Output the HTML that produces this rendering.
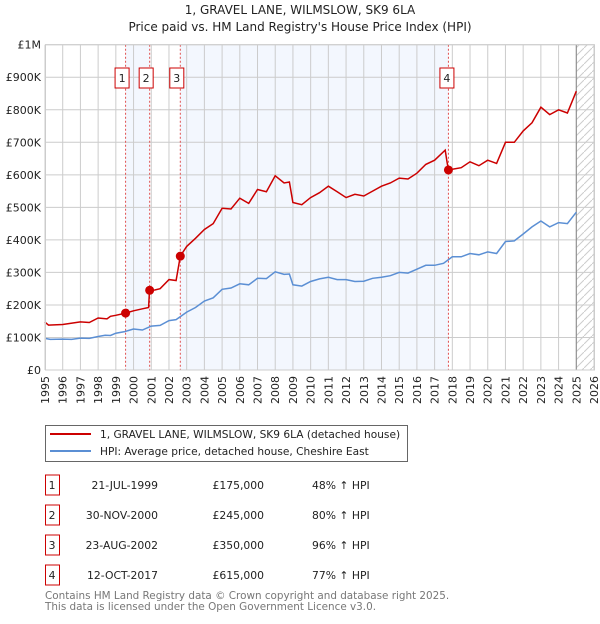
<!DOCTYPE html>
<html><head><meta charset="utf-8"><style>
body{margin:0;background:#fff;font-family:"DejaVu Sans","Liberation Sans",sans-serif;}
svg text{font-family:"DejaVu Sans","Liberation Sans",sans-serif;}
</style></head><body>
<svg id="chart" width="600" height="620" xmlns="http://www.w3.org/2000/svg">
<defs><pattern id="hatch" width="8" height="8" patternUnits="userSpaceOnUse"><path d="M0,8 L8,0" stroke="#ccc" stroke-width="1"/></pattern></defs>
<text x="300" y="14" text-anchor="middle" font-size="12" fill="#222">1, GRAVEL LANE, WILMSLOW, SK9 6LA</text>
<text x="300" y="31" text-anchor="middle" font-size="12" fill="#222">Price paid vs. HM Land Registry's House Price Index (HPI)</text>
<g id="plot"></g>
<g>
<rect x="45.5" y="425.5" width="362" height="36" fill="#fff" stroke="#666"/>
<line x1="50" y1="434" x2="91" y2="434" stroke="#cc0000" stroke-width="2"/>
<text x="100" y="438" font-size="10.6" fill="#222">1, GRAVEL LANE, WILMSLOW, SK9 6LA (detached house)</text>
<line x1="50" y1="451" x2="91" y2="451" stroke="#5b8fd4" stroke-width="2"/>
<text x="100" y="455" font-size="10.6" fill="#222">HPI: Average price, detached house, Cheshire East</text>
</g>
<g id="table" font-size="11" fill="#222"></g>
<text x="45" y="599" font-size="10.4" fill="#777">Contains HM Land Registry data © Crown copyright and database right 2025.</text>
<text x="45" y="610" font-size="10.4" fill="#777">This data is licensed under the Open Government Licence v3.0.</text>
</svg>
<script>
const hpiYears=[1995,1995.3,1996,1996.5,1997,1997.5,1998,1998.4,1998.7,1999,1999.5,2000,2000.5,2001,2001.5,2002,2002.4,2003,2003.5,2004,2004.5,2005,2005.5,2006,2006.5,2007,2007.5,2008,2008.5,2008.8,2009,2009.5,2010,2010.5,2011,2011.5,2012,2012.5,2013,2013.5,2014,2014.5,2015,2015.5,2016,2016.5,2017,2017.5,2017.8,2018,2018.5,2019,2019.5,2020,2020.5,2021,2021.5,2022,2022.5,2023,2023.5,2024,2024.5,2025];
const hpiValues=[97,94,95,94,98,97,103,107,106,113,118,126,123,135,137,152,155,178,192,212,222,248,252,265,262,282,281,302,294,295,262,258,272,280,285,278,278,272,273,282,285,290,300,298,310,322,322,328,340,348,348,358,354,363,358,395,397,418,440,458,440,453,450,485];
const priceYears=[1995,1995.2,1996,1997,1997.5,1998,1998.5,1998.7,1999,1999.55,2000,2000.5,2000.85,2000.9,2001.2,2001.5,2002,2002.4,2002.64,2003,2003.5,2004,2004.5,2005,2005.5,2006,2006.5,2007,2007.5,2008,2008.5,2008.8,2009,2009.5,2010,2010.5,2011,2011.5,2012,2012.5,2013,2013.5,2014,2014.5,2015,2015.5,2016,2016.5,2017,2017.6,2017.7,2017.78,2018,2018.5,2019,2019.5,2020,2020.5,2021,2021.5,2022,2022.5,2023,2023.5,2024,2024.5,2025];
const priceValues=[147,138,140,148,146,160,157,165,168,175,182,188,192,245,246,250,278,275,350,380,405,432,450,497,495,528,512,555,548,597,575,578,515,508,530,545,565,548,530,540,535,550,565,575,590,587,605,632,645,676,640,615,617,622,640,628,645,635,700,700,735,760,808,785,800,790,857];
const saleLabels=["1","2","3","4"];
const saleYears=[1999.55,2000.91,2002.64,2017.78];
const saleValues=[175,245,350,615];
const saleDates=["21-JUL-1999","30-NOV-2000","23-AUG-2002","12-OCT-2017"];
const salePrices=["£175,000","£245,000","£350,000","£615,000"];
const saleHpi=["48% ↑ HPI","80% ↑ HPI","96% ↑ HPI","77% ↑ HPI"];
const yTicks=[0,100,200,300,400,500,600,700,800,900,1000];
const yTickLabels=["£0","£100K","£200K","£300K","£400K","£500K","£600K","£700K","£800K","£900K","£1M"];
const xTicks=[];for(let y=1995;y<=2026;y++)xTicks.push(y);

const NS="http://www.w3.org/2000/svg";
const L=45,R=594,T=44.7,B=370,X0=1995,X1=2026;
const xs=v=>L+(v-X0)/(X1-X0)*(R-L);
const ys=v=>B-v/1000*(B-T);
const plot=document.getElementById('plot');
function mk(tag,attrs,parent){const e=document.createElementNS(NS,tag);for(const k in attrs)e.setAttribute(k,attrs[k]);(parent||plot).appendChild(e);return e;}
let s=mk('rect',{x:xs(saleYears[0]),y:T,width:xs(saleYears[1])-xs(saleYears[0]),height:B-T,fill:'#eef3fd',opacity:0.7});


s=mk('rect',{x:xs(saleYears[2]),y:T,width:xs(saleYears[3])-xs(saleYears[2]),height:B-T,fill:'#eef3fd',opacity:0.7});


s=mk('rect',{x:xs(2025.0),y:T,width:R-xs(2025.0),height:B-T,fill:'url(#hatch)'});


xTicks.forEach(t=>{const l=mk('line',{x1:xs(t),x2:xs(t),y1:T,y2:B,stroke:'#ccc','stroke-width':1});


const tx=mk('text',{x:0,y:0,transform:`translate(${xs(t)+4},${B+6}) rotate(-90)`,'text-anchor':'end','font-size':11,fill:'#222'});tx.textContent=t;

});
yTicks.forEach((t,i)=>{const l=mk('line',{x1:L,x2:R,y1:ys(t),y2:ys(t),stroke:'#ccc','stroke-width':1});


const tx=mk('text',{x:L-4,y:ys(t)+4,'text-anchor':'end','font-size':11,fill:'#222'});tx.textContent=yTickLabels[i];

});
let fl=mk('line',{x1:xs(2025.0),x2:xs(2025.0),y1:T,y2:B,stroke:'#888','stroke-width':1});


saleYears.forEach((y,i)=>{const l=mk('line',{x1:xs(y),x2:xs(y),y1:T,y2:B,stroke:'#e05050','stroke-width':1,'stroke-dasharray':'2,2'});

});
const path=(xa,va)=>xa.map((x,i)=>(i?'L':'M')+xs(x).toFixed(1)+','+ys(va[i]).toFixed(1)).join('');
let hp=mk('path',{d:path(hpiYears,hpiValues),fill:'none',stroke:'#5b8fd4','stroke-width':1.5});


let pp=mk('path',{d:path(priceYears,priceValues),fill:'none',stroke:'#cc0000','stroke-width':1.5});


saleYears.forEach((y,i)=>{const c=mk('circle',{cx:xs(y),cy:ys(saleValues[i]),r:4.5,fill:'#cc0000'});


const cx=xs(y)-(i==3?1.5:3.5);
const bx=mk('rect',{x:cx-7,y:68,width:14,height:20,fill:'#fff',stroke:'#cc0000'});


const tx=mk('text',{x:cx,y:82,'text-anchor':'middle','font-size':11,fill:'#222'});tx.textContent=saleLabels[i];

});
let fr=mk('rect',{x:L+0.5,y:T,width:R-L,height:B-T,fill:'none',stroke:'#ccc'});


const tb=document.getElementById('table');
const rowY=[485,515,545,575];
saleLabels.forEach((lab,i)=>{const y=rowY[i];
const r=mk('rect',{x:45.5,y:y-10,width:14,height:20,fill:'#fff',stroke:'#cc0000'},tb);


const cells=[[52,'middle',lab],[158,'end',saleDates[i]],[264,'end',salePrices[i]],[312,'start',saleHpi[i]]];
cells.forEach(c=>{const t=mk('text',{x:c[0],y:y+4,'text-anchor':c[1],'font-size':10.8,fill:'#222'},tb);t.textContent=c[2];

});});
</script>
</body></html>
